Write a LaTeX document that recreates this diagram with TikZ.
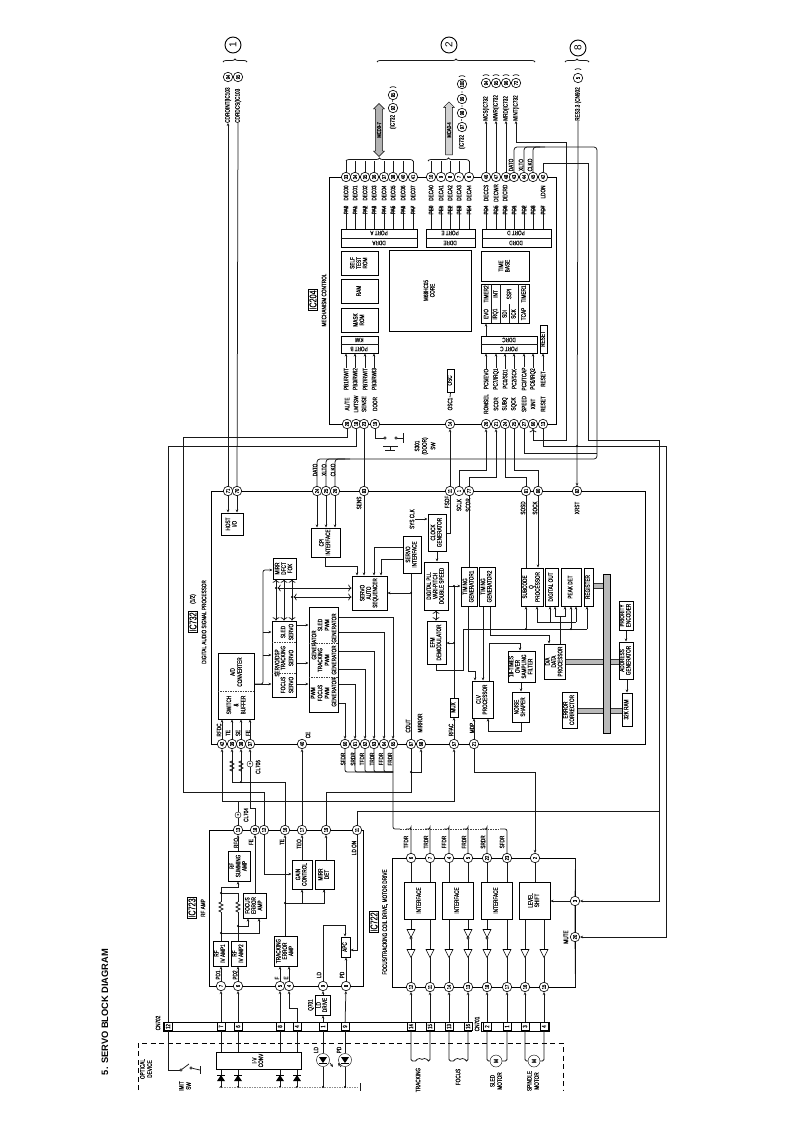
\documentclass[tikz,border=0pt]{standalone}
\usepackage{graphicx}
\usepackage{fontspec}
\setmainfont[FakeStretch=0.72,FakeBold=0.25]{Liberation Sans}
\newfontfamily\titlefont{Liberation Sans}
\usetikzlibrary{arrows.meta, shapes.geometric, shapes.arrows, decorations.pathreplacing, positioning}
\renewcommand{\arraystretch}{0.85}
\newcommand{\smalltxt}{\fontsize{6.5}{7.2}\selectfont}
\newcommand{\rottxt}[1]{\rotatebox{90}{\begin{tabular}{@{}c@{}}#1\end{tabular}}}
\newcommand{\blk}[7][]{\node[blk,#1,minimum width={(#5-#3)*1pt},minimum height={(#6-#4)*1pt}] (#2) at ({(#3+#5)/2},{(#4+#6)/2}) {\rottxt{#7}};}
\tikzset{
  wire/.style={line width=0.75pt, draw=black!90},
  arr/.style={wire, -{Stealth[length=3pt,width=2.6pt]}},
  blk/.style={draw=black, line width=1pt, inner sep=0pt, font=\smalltxt},
  lbl/.style={rotate=90, inner sep=0pt, font=\smalltxt, align=center},
  iclbl/.style={rotate=90, draw, inner sep=1pt, line width=0.8pt, font=\fontsize{10}{10}\selectfont},
  pinc/.style={circle, draw, fill=white, inner sep=0pt, minimum size=9.5pt, rotate=90, line width=0.6pt, font=\fontsize{5.6}{6}\selectfont},
  cell/.style={draw, inner sep=0pt, minimum width=8pt, minimum height=8pt, rotate=90, line width=0.5pt, fill=white, font=\fontsize{6}{6}\selectfont},
  dot/.style={circle, fill=black, inner sep=0pt, minimum size=2.4pt},
  tp/.style={circle, draw, fill=white, inner sep=0pt, minimum size=6pt, font=\fontsize{5}{5}\selectfont},
  buf/.style={isosceles triangle, draw, fill=white, shape border rotate=270, isosceles triangle stretches, minimum width=8pt, minimum height=8pt, inner sep=0pt, line width=0.6pt},
  bub/.style={circle, draw, fill=white, inner sep=0pt, minimum size=2.5pt, line width=0.4pt},
  brc/.style={wire, decorate, decoration={brace, amplitude=3pt}},
  busw/.style={draw=black!80, line width=0.5pt, double=gray!55, double distance=4.5pt},
  dashln/.style={line width=0.6pt, dash pattern=on 1.5pt off 1pt, draw=black!75},
}
\begin{document}
\begin{tikzpicture}[x=1pt,y=-1pt]
\useasboundingbox (0,0) rectangle (793,1122);
\node[rotate=90, inner sep=0pt, font=\titlefont\fontsize{9.3}{10}\bfseries\selectfont] (title) at (105,1012) {5. SERVO BLOCK DIAGRAM};

\blk{rfamp}{209}{830}{363}{986}{}
\blk{drive}{392}{858}{575}{987}{}
\blk{dsp}{211}{491}{645}{744}{}
\blk{mech}{329}{177}{556}{424}{}
\blk{cna}{163}{1022}{471}{1031}{}
\blk{cnb}{481}{1022}{549}{1031}{}

\node[iclbl] (ic723) at (192,908) {IC723};
\node[lbl] (t723) at (203,908) {RF AMP};
\node[iclbl] (ic722) at (374,922) {IC722};
\node[lbl] (t722) at (385,922) {FOCUS/TRACKING COIL DRIVE, MOTOR DRIVE};
\node[iclbl] (ic732) at (193,622) {IC732};
\node[lbl] (h732) at (193,599) {(1/2)};
\node[lbl] (t732) at (204,622) {DIGITAL AUDIO SIGNAL PROCESSOR};
\node[iclbl] (ic204) at (313,300) {IC204};
\node[lbl] (t204) at (324,300) {MECHANISM CONTROL};

\blk{sumamp}{228}{851}{250}{881}{RF\\SUMMING\\AMP}
\blk{focamp}{243}{893}{266}{918}{FOCUS\\ERROR\\AMP}
\blk{ivone}{213}{941}{228}{966}{RF\\IV AMP1}
\blk{ivtwo}{231}{941}{246}{966}{RF\\IV AMP2}
\blk{trkamp}{274}{936}{297}{966}{TRACKING\\ERROR\\AMP}
\blk{gain}{292}{860}{312}{889}{GAIN\\CONTROL}
\blk{mirdet}{315}{860}{334}{889}{MIRR\\DET}
\blk{apc}{341}{937}{350}{957}{APC}
\blk{lddrv}{315}{995}{330}{1015}{LD\\DRIVE}

\blk{hostio}{221}{513}{243}{535}{HOST\\I/O}
\blk{cpi}{311}{528}{340}{557}{CPI\\INTERFACE}
\blk{mirr}{273}{558}{296}{579}{MIRR\\DFCT\\FOK}
\blk{servo}{272}{621}{296}{697}{}
\blk{pwm}{309}{607}{338}{712}{}
\blk{adc}{218}{653}{254}{719}{}
\blk{seq}{352}{576}{387}{610}{SERVO\\AUTO\\SEQUENCER}
\blk{sinf}{403}{536}{421}{573}{SERVO\\INTERFACE}
\blk{clkg}{428}{514}{446}{551}{CLOCK\\GENERATOR}
\blk{pll}{424}{562}{448}{610}{DIGITAL PLL\\VARI-PITCH\\DOUBLE SPEED}
\blk{efm}{427}{621}{446}{664}{EFM\\DEMODULATOR}
\blk{tga}{461}{567}{477}{606}{TIMING\\GENERATOR1}
\blk{tgb}{479}{567}{495}{606}{TIMING\\GENERATOR2}
\blk{subq}{521}{568}{543}{606}{SUBCODE\\Q\\PROCESSOR}
\blk{digout}{545}{568}{558}{606}{DIGITAL OUT}
\blk{peak}{561}{568}{581}{606}{PEAK DET}
\blk{regs}{584}{568}{593}{606}{REGISTER}
\blk{dadp}{544}{644}{565}{679}{D/A\\DATA\\PROCESSOR}
\blk{ovs}{508}{651}{535}{682}{18-TIMES\\OVER\\SAMPLING\\FILTER}
\blk{noise}{512}{692}{529}{722}{NOISE\\SHAPER}
\blk{clv}{472}{681}{493}{718}{CLV\\PROCESSOR}
\blk{mux}{450}{698}{458}{717}{MUX}
\blk{ecc}{562}{692}{577}{728}{ERROR\\CORRECTOR}
\blk{prio}{619}{601}{633}{630}{PRIORITY\\ENCODER}
\blk{addr}{619}{642}{633}{679}{ADDRESS\\GENERATOR}
\blk{ram}{622}{693}{632}{726}{32K RAM}
\blk[fill=gray!55]{bus}{603}{574}{610}{733}{}

\node[lbl] (adtxt) at (236,672) {A/D\\CONVERTER};
\node[lbl] (swtxt) at (236,705) {SWITCH\\\&\\BUFFER};
\draw[dashln] (adc.west |- 0,691) -- (adc.east |- 0,691);
\node[lbl] (svtop) at (277,663) {SERVO/DSP};
\foreach \y/\t in {685/FOCUS,658/TRACKING,632/SLED} {
  \node[lbl] (sv\t) at (283,\y) {\t};
  \node[lbl] (sw\t) at (291,\y) {SERVO};
}
\draw[dashln] (servo.west |- 0,673) -- (servo.east |- 0,673);
\draw[dashln] (servo.west |- 0,642) -- (servo.east |- 0,642);
\node[lbl] (pwa) at (313,693) {PWM};
\node[lbl] (pwb) at (320,693) {FOCUS};
\node[lbl] (pwc) at (327,693) {PWM};
\node[lbl] (pwd) at (334,692) {GENERATOR};
\node[lbl] (pwe) at (314,645) {GENERATOR};
\node[lbl] (pwf) at (320,660) {TRACKING};
\node[lbl] (pwg) at (327,660) {PWM};
\node[lbl] (pwh) at (334,660) {GENERATOR};
\node[lbl] (pwi) at (320,625) {SLED};
\node[lbl] (pwj) at (327,625) {PWM};
\node[lbl] (pwk) at (334,628) {GENERATOR};
\draw[dashln] (pwm.west |- 0,677) -- (pwm.east |- 0,677);
\draw[dashln] (pwm.west |- 0,643) -- (pwm.east |- 0,643);

\blk{ifa}{404}{882}{435}{919}{INTERFACE}
\blk{ifb}{442}{882}{473}{919}{INTERFACE}
\blk{ifc}{481}{882}{512}{919}{INTERFACE}
\blk{level}{519}{882}{550}{919}{LEVEL\\SHIFT}

\blk{porta}{341}{229}{417}{247}{}
\blk{porte}{426}{229}{475}{247}{}
\blk{portd}{482}{229}{551}{247}{}
\blk{selfrom}{341}{251}{378}{275}{SELF\\TEST\\ROM}
\blk{ramb}{341}{279}{378}{303}{RAM}
\blk{maskrom}{341}{308}{378}{332}{MASK\\ROM}
\blk{portb}{341}{336}{378}{353}{}
\blk{core}{389}{250}{471}{331}{M68HC05\\CORE}
\blk{tbase}{481}{251}{529}{281}{TIME\\BASE}
\blk{timers}{481}{284}{529}{323}{}
\blk{portc}{481}{336}{537}{353}{}
\blk{rstb}{540}{325}{547}{353}{RESET}
\blk{osc}{447}{369}{454}{392}{OSC}

\foreach \k/\x/\a/\b in {porta/379/PORT A/DDRA,porte/450/PORT E/DDRE,portd/516/PORT D/DDRD} {
  \draw[wire] (\k.west) -- (\k.east);
  \node[inner sep=0pt, rotate=180, font=\smalltxt] (\k x) at (\x,233) {\a};
  \node[inner sep=0pt, rotate=180, font=\smalltxt] (\k y) at (\x,243) {\b};
}
\draw[wire] (portb.west |- 0,344) -- (portb.east |- 0,344);
\draw[wire] (portc.west |- 0,344) -- (portc.east |- 0,344);
\node[inner sep=0pt, rotate=180, font=\smalltxt] (kwi) at (359,340) {KWI};
\node[inner sep=0pt, rotate=180, font=\smalltxt] (pbt) at (359,349) {PORT B};
\node[inner sep=0pt, rotate=180, font=\smalltxt] (ddc) at (509,340) {DDRC};
\node[inner sep=0pt, rotate=180, font=\smalltxt] (pct) at (509,349) {PORT C};
\foreach \x in {491,500,509,518} \draw[wire] (\x,304) -- (\x,323);
\foreach \x in {491,500,518} \draw[wire] (\x,284) -- (\x,304);
\foreach \x/\a/\b in {486/EVO/TIMER2,495.5/IRQ1/INT,523.5/TCAP/TIMER1} {
  \node[lbl] (tm\a) at (\x,314) {\a};
  \node[lbl] (tn\a) at (\x,294) {\b};
}
\node[lbl] (tmsdi) at (504.5,314) {SDI};
\node[lbl] (tmsck) at (513.5,314) {SCK};
\node[lbl] (tmspi) at (509,294) {SSPI};

\foreach \x/\n in {238/13,255/18,264/12,285/16,302/17,326/19,357/11} \node[pinc] (amp\n) at (\x,830) {\n};
\foreach \x/\n in {221/7,238/6,280/5,289/4,323/9,346/8} \node[pinc] (amp\n) at (\x,986) {\n};
\foreach \x/\n in {411/6,430/7,449/4,468/5,487/22,507/23,535/2} \node[pinc] (drv\n) at (\x,858) {\n};
\foreach \x/\n in {411/12,430/11,449/14,468/13,487/18,507/17,525/16,544/15} \node[pinc] (drv\n) at (\x,987) {\n};
\node[pinc] (drv3) at (575,901) {3};
\node[pinc] (drv20) at (575,937) {20};
\foreach \x/\n in {228/71,237/70,317/24,326/25,335/26,364/83,450/11,459/1,469/77,526/81,538/80,577/82} \node[pinc] (dsp\n) at (\x,491) {\n};
\foreach \x/\n in {222/42,232/39,241/38,250/37,302/40,345/60,355/61,365/62,374/63,384/64,393/65,411/67,421/68,454/57,474/21} \node[pinc] (dsp\n) at (\x,744) {\n};
\foreach \x/\n in {346/33,355/34,365/35,374/36,384/37,393/38,403/40,413/41,431/10,441/9,450/8,459/7,469/6,486/46,496/47,506/48,514/43,524/44,533/45,543/42} \node[pinc] (mt\n) at (\x,177) {\n};
\foreach \x/\n in {347/28,356/18,364/23,375/19,450/14,486/26,496/21,505/24,514/25,524/27,533/60,543/13} \node[pinc] (mb\n) at (\x,424) {\n};

\foreach \x/\n in {168/12,221/7,238/6,280/8,297/4,323/1,345/9,411/14,430/15,449/13,468/16} \node[cell] (ca\n) at (\x,1026.5) {\n};
\foreach \x/\n in {487/2,507/1,525/3,544/4} \node[cell] (cb\n) at (\x,1026.5) {\n};
\node[lbl] (cn702) at (158,1023) {CN702};
\node[lbl] (cn701) at (477,1024) {CN701};

\foreach \x/\y/\t in {236/843/RFO,251/842/FE,282/842/TE,299/844/TEO,354/848/LD ON,218/975/PD1,235/975/PD2,277/978/F,286/978/E,319/975/LD,342/975/PD,311/1005/Q701,406/842/TFDR,426/842/TRDR,444/842/FFDR,464/842/FRDR,483/842/SRDR,502/842/SFDR,566/937/MUTE,219/730/RFDC,228/733/TE,238/733/SE,248/733/FE,308/735/CE,343/759/SFDR,353/759/SRDR,362/759/TFDR,372/759/TRDR,381/759/FFDR,390/759/FRDR,408/726/COUT,420/723/MIRROR,451/730/RFAC,472/728/MDP,359/503/SENS,447/502/FSOF,459/505/SCLK,468/505/SCOR,523/508/SOSD,535/508/SOCK,577/508/XRST,315/470/DATO,324/470/XLTO,333/470/CLKO,511/165/DATO,521/165/XLTO,530/165/CLKO,543/192/LDON}
  \node[lbl] (n\t\x) at (\x,\y) {\t};
\node[lbl] (lsys) at (412,519) {SYS CLK};
\node[lbl] (cl6) at (258,767) {CL706};
\node[lbl] (cl4) at (246,815) {CL704};
\node[tp] (tpsix) at (250,764) {+};
\node[tp] (tpfour) at (238,815) {+};

\draw[arr] (amp7) -- (amp7 |- ivone.south);
\draw[arr] (amp6) -- (amp6 |- ivtwo.south);
\draw[arr] (ca7) -- (amp7);
\draw[arr] (ca6) -- (amp6);
\draw[arr] (ca8) -- (amp5);
\draw[arr] (ca4) |- (289,1008) -- (amp4);
\draw[arr] (amp5) -- (amp5 |- trkamp.south);
\draw[arr] (amp4) -- (amp4 |- trkamp.south);
\draw[arr] (ca1) -- (lddrv.south -| ca1);
\draw[arr] (lddrv.north -| ca1) -- (amp9);
\draw[arr] (ca9) -- (amp8);
\draw[arr] (amp7 |- ivone.north) |- (238,887) -- (sumamp.south -| 238,0);
\draw[wire] (amp6 |- ivtwo.north) |- (221,893);
\node[dot] (dfa) at (221,893) {};
\node[dot] (dfb) at (238,926) {};
\node[dot] (dfc) at (221,933) {};
\draw[arr] (dfb) -| (focamp.south -| 248,0);
\draw[arr] (dfc) -| (focamp.south -| 259,0);
\draw[arr] (focamp.north -| amp18) -- (amp18);
\draw[arr] (sumamp.north -| amp13) -- (amp13);
\draw[arr] (trkamp.north -| amp16) -- (amp16);
\node[dot] (dte) at (285,903) {};
\draw[wire] (dte) -| (mirdet.south -| 324,0);
\draw[arr] (302,903) -- (gain.south -| 302,0);
\draw[arr] (324,896) -- (mirdet.south -| 324,0);
\draw[arr] (gain.north -| amp17) -- (amp17);
\draw[arr] (mirdet.north -| amp19) -- (amp19);
\draw[arr] (amp12) |- (gain.west |- 0,874);
\draw[arr] (amp9) |- (345,925) -- (apc.north -| 345,0);
\draw[arr] (amp8) -- (apc.south -| amp8);
\draw[arr] (amp11) |- (apc.east |- 0,950);

\foreach \x/\y in {221/907,238/907,232/766,241/766} {
  \fill[white] (\x-3,\y-5) rectangle (\x+3,\y+5);
  \draw[wire] (\x,\y-5) -- (\x-2,\y-4) -- (\x+2,\y-2) -- (\x-2,\y) -- (\x+2,\y+2) -- (\x-2,\y+4) -- (\x,\y+5);
}

\draw[wire] (amp13) -- (tpfour) -- (238,801);
\draw[arr] (238,801) -| (dsp42);
\draw[arr] (238,801) -| (dsp57);
\draw[arr] (amp16) |- (232,782) -- (dsp39);
\node[dot] (dse) at (241,782) {};
\draw[arr] (dse) -- (dsp38);
\draw[arr] (amp18) |- (250,808) -- (tpsix) -- (dsp37);
\draw[arr] (amp17) -- (dsp40);
\draw[wire] (amp19) |- (411,792) -- (dsp67);
\node[dot] (dcout) at (411,772) {};
\draw[arr] (dcout) -| (dsp68);
\draw[arr] (dsp21) |- (535,772) -- (drv2);
\draw[wire] (amp12) |- (183,792) -- (183,437) -| (mb28);
\draw[wire] (ca12) |- (356,446) -- (mb18);
\draw[wire] (amp11) |- (659,811);
\draw[arr] (mt42) |- (588,163) -- (588,440) -- (659,440) |- (drv3);
\draw[arr] (mb13) |- (666,446) |- (drv20);
\node[dot] (drst) at (577,446) {};
\draw[wire] (drv2) -- (drv2 |- level.north);
\draw[arr] (drv3) -- (level.east |- drv3);
\foreach \n in {60,61,62,63,64} \draw[wire, rounded corners=2pt] (dsp\n) |- (393,772);
\draw[wire, rounded corners=2pt] (dsp65) -- (393,829) -- (400,829);
\draw[dashln] (400,829) -- (500,829);
\foreach \n in {6,7,4,5,22} \draw[wire, rounded corners=2pt] (drv\n) |- (drv\n |- 0,829) -- ++(-5,0);
\draw[wire, rounded corners=2pt] (drv23) |- (500,829);

\foreach \t/\b/\k in {6/12/ifa,7/11/ifa,4/14/ifb,5/13/ifb,22/18/ifc,23/17/ifc} {
  \draw[wire] (drv\t) -- (drv\t |- \k.north);
  \draw[wire] (drv\b |- \k.south) -- (drv\b);
}
\foreach \b in {16,15} \draw[wire] (drv\b |- level.south) -- (drv\b);
\foreach \b in {12,11,14,13,18,17,16,15} \node[buf] (buf\b) at (drv\b |- 0,952) {};
\foreach \b in {12,13,18} {
  \node[buf] (inv\b) at (drv\b |- 0,932) {};
  \node[bub] (bub\b) at (drv\b |- 0,938) {};
}
\draw[wire] (drive.east |- 0,858) -- (drv3) -- (drv20) -- (drive.east |- 0,987);
\foreach \b/\c in {12/ca14,11/ca15,14/ca13,13/ca16,18/cb2,17/cb1,16/cb3,15/cb4} \draw[arr] (\c) -- (drv\b);

\foreach \n in {42,39,38,37} \draw[arr] (dsp\n) -- (dsp\n |- adc.south);
\draw[arr] (dsp71) -- (dsp71 |- hostio.north);
\draw[arr] (dsp70) -- (dsp70 |- hostio.north);
\foreach \n in {24,25,26} \draw[arr] (dsp\n) -- (dsp\n |- cpi.north);
\draw[arr] (adc.east |- 0,684) -- (servo.west |- 0,684);
\draw[arr, rounded corners=2pt] (adc.east |- 0,684) -| (263,570) -- (mirr.west |- 0,570);
\draw[arr, rounded corners=2pt] (263,632) -- (servo.west |- 0,632);
\draw[arr, rounded corners=2pt] (263,655) -- (servo.west |- 0,655);
\foreach \y in {684,663,625} \draw[arr] (servo.east |- 0,\y) -- (pwm.west |- 0,\y);
\foreach \x in {276,284,292} \draw[arr, <->] (mirr.south -| \x,0) -- (servo.north -| \x,0);
\foreach \y/\n in {617/65,632/64,651/63,669/62,684/61,703/60} \draw[arr] (pwm.east |- 0,\y) -| (dsp\n);
\node[dot] (dsa) at (276,588) {};
\node[dot] (dsb) at (292,597) {};
\draw[arr, <->] (dsa) -- (seq.west |- dsa);
\draw[arr, <->] (dsb) -- (seq.west |- dsb);
\draw[arr] (dsp83) -- (dsp83 |- seq.north);
\draw[wire] (mb23) -- (dsp83);
\draw[arr] (cpi.south) |- (357,566) -- (seq.north -| 357,0);
\draw[arr] (sinf.west |- 0,547) -| (seq.north -| 374,0);
\draw[arr] (sinf.west |- 0,559) -| (seq.north -| 381,0);
\draw[wire] (sinf.south -| dsp67) -- (dsp67);
\node[dot] (dsq) at (411,593) {};
\draw[arr] (dsq) -- (seq.east |- dsq);
\draw[arr] (lsys.south) -- (clkg.west |- lsys.south);
\draw[wire] (clkg.east |- 0,533) -| (dsp11);
\draw[arr] (clkg.south) -- (clkg.south |- pll.north);
\draw[arr, <->] (pll.south) -- (pll.south |- efm.north);
\draw[arr] (pll.east |- 0,586) -- (tga.west |- 0,586);
\draw[wire] (mux.north) -- (mux.north |- 0,586);
\node[dot] (dpa) at (454,586) {};
\node[dot] (dpb) at (454,643) {};
\draw[arr] (dpb) -- (efm.east |- dpb);
\draw[arr] (dsp57) -- (mux.south -| dsp57);
\draw[arr] (dsp21) -- (clv.south -| dsp21);
\draw[wire] (efm.south) |- (463,670) -- (463,629) -- (587,629);
\draw[arr] (587,629) -- (regs.south -| 587,0);
\node[dot] (dqa) at (526,629) {};
\node[dot] (dqb) at (571,629) {};
\draw[arr] (dqa) -- (subq.south -| dqa);
\draw[arr] (dqb) -- (peak.south -| dqb);
\draw[wire] (537,622) -- (576,622);
\draw[arr] (537,622) -- (subq.south -| 537,0);
\draw[arr] (550,622) -- (digout.south -| 550,0);
\draw[arr] (576,622) -- (peak.south -| 576,0);
\draw[wire] (dadp.north -| 560,0) -- (560,616);
\draw[arr] (560,616) -| (digout.south -| 555,0);
\draw[arr] (560,616) -| (peak.south -| 565,0);
\draw[wire] (dsp77) -- (dsp77 |- tga.north);
\draw[arr] (tga.south -| 468,0) |- (475,671) -- (clv.north -| 475,0);
\draw[arr] (tgb.south -| 483,0) -- (clv.north -| 483,0);
\draw[arr] (tgb.south -| 490,0) |- (549,635) -- (dadp.north -| 549,0);
\draw[arr] (clv.north -| 489,0) |- (520,643) -- (ovs.north -| 520,0);
\draw[arr] (ovs.south -| 521,0) -- (noise.north -| 521,0);
\draw[arr] (noise.south -| 521,0) |- (488,731) -- (clv.south -| 488,0);
\draw[wire] (dsp81) -- (dsp81 |- subq.north);
\draw[arr] (dsp80) -- (dsp80 |- subq.north);
\draw[arr] (prio.south) -- (addr.north);
\draw[arr] (addr.south -| ram.north) -- (ram.north);
\draw[busw] (dadp.east |- 0,662) -- (bus.west |- 0,662);
\draw[busw] (ecc.east |- 0,711) -- (bus.west |- 0,711);
\draw[busw] (bus.east |- 0,711) -- (ram.west |- 0,711);
\draw[busw] (bus.east |- 0,662) -- (addr.west |- 0,662);
\draw[busw] (regs.east |- 0,586) -- (bus.west |- 0,586);

\foreach \x/\a/\b [count=\c] in {346/PA0/DEC00,355/PA1/DEC01,365/PA2/DEC02,374/PA3/DEC03,384/PA4/DEC04,393/PA5/DEC05,403/PA6/DEC06,413/PA7/DEC07} {
  \node[lbl] (da\c) at (\x,193) {\b};
  \node[lbl] (pa\c) at (\x,210) {\a};
  \draw[arr] (porta.north -| pa\c) -- (pa\c.east);
}
\foreach \x/\a/\b [count=\c] in {431/PE0/DECA0,441/PE1/DECA1,450/PE2/DECA2,459/PE3/DECA3,469/PE4/DECA4} {
  \node[lbl] (de\c) at (\x,193) {\b};
  \node[lbl] (pe\c) at (\x,210) {\a};
  \draw[arr] (porte.north -| pe\c) -- (pe\c.east);
}
\foreach \x/\a/\b [count=\c] in {486/PD4/DECCS,496/PD5/DECWR,505/PD6/DECRD} {
  \node[lbl] (dd\c) at (\x,193) {\b};
  \node[lbl] (pd\c) at (\x,210) {\a};
  \draw[arr] (portd.north -| pd\c) -- (pd\c.east);
}
\foreach \x/\a [count=\c from 4] in {514/PD1,524/PD2,533/PD3,543/PD7} {
  \node[lbl] (pd\c) at (\x,210) {\a};
  \draw[arr] (portd.north -| pd\c) -- (pd\c.east);
}
\foreach \x/\t [count=\c] in {346/{PB1/RWIT},355/{PB3/RWI2},365/{PB7/RWIT},374/{PB3/RWI3}} {
  \node[lbl] (pb\c) at (\x,379) {\t};
  \draw[arr] (pb\c.east) -- (portb.south -| pb\c);
}
\foreach \x/\t [count=\c] in {486/{PC5/EVO},496/{PC7/IRQ1},505/{PC0/SD1},514/{PC2/SCK},524/{PC3/TCAP},533/{PC6/IRQ2}} {
  \node[lbl] (pc\c) at (\x,379) {\t};
  \draw[arr] (pc\c.east) -- (portc.south -| pc\c);
}
\node[lbl] (lrst) at (543,379) {RESET};
\draw[arr] (lrst.east) -- (rstb.south -| lrst);
\draw[arr] (portc.north -| 486,0) -- (timers.south -| 486,0);
\foreach \x/\t in {347/{AL/TE},356/LMTSW,364/SENSE,375/DOOR,450/OSC1,486/ROMSEL,496/SCOR,505/SUBQ,514/SQCK,524/SPEED,533/XINT,543/RESET}
  \node[lbl] (m\x) at (\x,404) {\t};
\draw[wire] (osc.south) -- (m450.east);
\draw[arr] (dsp11) -- (mb14);
\draw[arr] (dsp1) |- (486,470) -- (mb26);
\draw[arr] (dsp77) |- (496,477) -- (mb21);
\draw[wire] (mb24) |- (526,477) -- (dsp81);
\draw[wire] (mb25) |- (538,470) -- (dsp80);
\draw[wire] (mb19) |- (385,438);
\node[bub] (swa) at (385,438) {};
\node[bub] (swb) at (396,438) {};
\draw[wire] (swb) -- (403,438);
\draw[wire] (403,433) -- (403,443);
\draw[wire] (383,446) -- (398,446) (390,446) -- (390,450) (385,450) -- (395,450);
\node[lbl] (sthree) at (417,446) {S301};
\node[lbl] (sfour) at (425,446) {(DOOR)};
\node[lbl] (sfive) at (433,446) {SW};

\draw[wire] (drst) -- (mb13 |- drst);
\draw[arr, <-] (mb60) |- (566,440) -- (566,142) -- (516,142);
\draw[wire, rounded corners=3pt] (mt43) |- (597,147) -- (597,459) -| (dsp24);
\draw[wire, rounded corners=3pt] (mt44) |- (540,147);
\draw[wire, rounded corners=3pt] (mt45) |- (545,147);
\draw[wire, rounded corners=3pt] (dsp25) |- (345,459);
\draw[wire, rounded corners=3pt] (dsp26) |- (350,459);
\draw[wire] (mb27) |- (597,453);

\node[pinc] (rcp) at (578,78) {5};
\node[lbl, anchor=west] (res) at (578,121) {RES3.3 (CN902};
\node[lbl] (resb) at (578,69) {)};
\draw[arr] (res.west) -- (dsp82);
\foreach \x/\t/\n in {486/MCS/94,496/MWR/95,506/MRD/96,516/MINT/72} {
  \node[lbl, anchor=west] (sig\n) at (\x,121) {\t(IC732};
  \node[pinc] (sgp\n) at (\x,83) {\n};
  \node[lbl] (brk\n) at (\x,75) {)};
}
\draw[arr] (mt46) -- (sig94.west);
\draw[arr] (mt47) -- (sig95.west);
\draw[arr] (mt48) -- (sig96.west);
\draw[arr] (516,142) -- (sig72.west);
\node[lbl, anchor=west] (cda) at (228,123) {CDROINT(IC103};
\node[pinc] (cdap) at (228,77) {94};
\node[lbl, anchor=west] (cdb) at (238,123) {CDRDCS(IC103};
\node[pinc] (cdbp) at (238,77) {95};
\draw[arr] (dsp71) -- (cda.west);
\draw[wire] (cdb.west) -- (dsp70);

\node[single arrow, draw, fill=gray!35, rotate=90, minimum height=53pt, minimum width=11pt, single arrow head extend=2pt, inner sep=1pt, font=\fontsize{5.8}{6}\selectfont] (mca) at (449,130) {MCA0-4};
\node[double arrow, draw, fill=gray!60, rotate=90, minimum height=53pt, minimum width=11pt, double arrow head extend=2pt, inner sep=1pt, font=\fontsize{5.8}{6}\selectfont] (mcd) at (379,130) {MCD0-7};
\node[lbl] (mcdl) at (393,122) {(IC732};
\node[pinc] (mcdp) at (393,108) {92};
\node[lbl] (mcdm) at (393,101) {-};
\node[pinc] (mcdq) at (393,95) {85};
\node[lbl] (mcdr) at (393,87) {)};
\node[lbl] (mcal) at (462,142) {(IC732};
\node[pinc] (mcap) at (462,127) {97};
\node[lbl] (mcam) at (462,120) {-};
\node[pinc] (mcaq) at (462,113) {98};
\node[lbl] (mcan) at (462,106) {,};
\node[pinc] (mcar) at (462,99) {99};
\node[lbl] (mcao) at (462,92) {,};
\node[pinc] (mcas) at (462,84) {100};
\node[lbl] (mcat) at (462,76) {)};
\draw[brc] (346,161) -- (413,161);
\draw[brc] (428,161) -- (469,161);
\foreach \n in {33,34,35,36,37,38,40,41,10,9,8,7,6} \draw[wire] (mt\n) -- (mt\n |- 0,161);
\draw[brc] (223,62) -- (247,62);
\draw[brc] (377,62) -- (535,62);
\draw[brc] (565,62) -- (589,62);
\foreach \x/\y/\t in {233/45/1,449/45/2,578/48/8}
  \node[circle, draw, rotate=90, line width=0.9pt, minimum size=16pt, inner sep=0pt, font=\titlefont\fontsize{10}{10}\selectfont] (ref\t) at (\x,\y) {\t};

\draw[line width=0.9pt, dash pattern=on 5pt off 3.5pt] (138,1090) -- (138,1043) -- (563,1043) -- (563,1090);
\node[lbl] (opt) at (146,1069) {OPTICAL\\DEVICE};
\blk{iv}{216}{1052}{301}{1069}{I-V\\CONV}
\foreach \x/\c in {221/ca7,238/ca6,280/ca8,297/ca4} {
  \draw[wire] (\c) -- (iv.north -| \c);
  \draw[wire] (iv.south -| \c) -- (\x,1087);
  \fill (\x-4,1081) -- (\x+4,1081) -- (\x,1075) -- cycle;
  \draw[line width=0.8pt] (\x-4,1075) -- (\x+4,1075);
  \node[dot] (g\x) at (\x,1087) {};
}
\draw[dashln, draw=black!45] (219,1087) -- (359,1087);
\foreach \x/\t in {323/LD,345/PD} {
  \node[circle, draw, inner sep=0pt, minimum size=13pt] (d\t) at (\x,1060) {};
  \draw[wire] (\x,1031) -- (d\t) -- (\x,1087);
  \fill (\x-4,1057) -- (\x+4,1057) -- (\x,1063) -- cycle;
  \draw[line width=0.8pt] (\x-4,1063) -- (\x+4,1063);
  \node[dot] (g\x) at (\x,1087) {};
}
\node[lbl] (tld) at (316,1050) {LD};
\node[lbl] (tpd) at (339,1050) {PD};
\draw[arr] (330,1063) -- (333,1067);
\draw[arr] (341,1067) -- (338,1063);
\draw[wire] (360,1083) -- (360,1091);
\draw[wire] (200,1066) -- (200,1074);
\draw[wire] (ca12) |- (181,1070);
\node[bub] (swc) at (181,1070) {};
\node[bub] (swd) at (191,1068) {};
\draw[wire] (swc) -- (189,1064);
\draw[wire] (swd) -- (200,1070);
\node[lbl] (lim) at (185,1086) {IMIT\\SW};

\draw[wire, rounded corners=1.5pt] (ca14) |- (417,1061) arc[start angle=180,end angle=360,radius=2.5] arc[start angle=180,end angle=360,radius=2.5] -| (ca15);
\draw[wire, rounded corners=1.5pt] (ca13) |- (455,1061) arc[start angle=180,end angle=360,radius=2.5] arc[start angle=180,end angle=360,radius=2.5] -| (ca16);
\node[lbl] (ltr) at (418,1080) {TRACKING};
\node[lbl] (lfo) at (458,1077) {FOCUS};
\node[circle, draw, rotate=90, inner sep=0pt, minimum size=12pt, font=\smalltxt] (msled) at (496,1061) {M};
\node[circle, draw, rotate=90, inner sep=0pt, minimum size=12pt, font=\smalltxt] (mspin) at (534,1061) {M};
\draw[wire, rounded corners=1.5pt] (cb2) |- (msled);
\draw[wire, rounded corners=1.5pt] (cb1) |- (msled);
\draw[wire, rounded corners=1.5pt] (cb3) |- (mspin);
\draw[wire, rounded corners=1.5pt] (cb4) |- (mspin);
\node[lbl] (lsl) at (496,1081) {SLED\\MOTOR};
\node[lbl] (lsp) at (533,1081) {SPINDLE\\MOTOR};
\end{tikzpicture}
\end{document}
